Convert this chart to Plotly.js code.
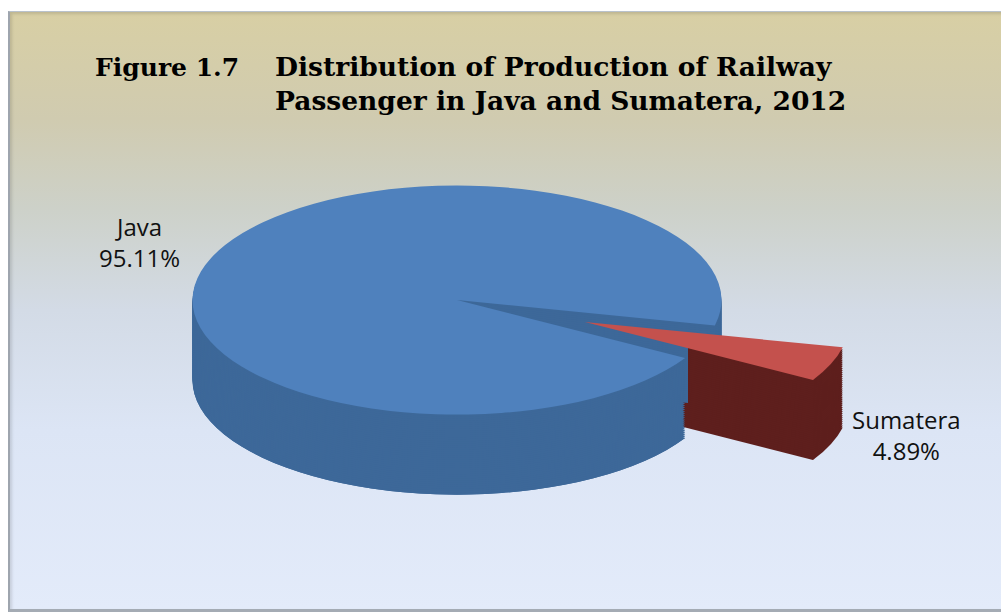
<!DOCTYPE html>
<html>
<head>
<meta charset="utf-8">
<script src="https://cdn.plot.ly/plotly-3.0.1.min.js"></script>
<style>
  html, body { margin:0; padding:0; width:1001px; height:612px; overflow:hidden; background:#ffffff; }
  #frame { position:absolute; left:8px; top:11px; width:1000px; height:597px;
    background: linear-gradient(to bottom, #d8cfa4 0%, #d0cbb0 18%, #cdd1c9 33%, #d3dbe6 50%, #dce5f5 70%, #e3ebfa 100%);
    border-left:2px solid #9ea5ae; border-top:1px solid #b9c2cc; border-bottom:3px solid #a4abb4;
    box-shadow: inset 2px 2px 3px rgba(0,0,0,0.12); }
  .pie { position:absolute; left:55px; top:126px; width:804px; height:989px; transform:scaleY(0.433); transform-origin:0 0; }
  #pieSides { z-index:1; }
  #pieRim { z-index:2; clip-path: inset(0 171px 0 0); }
  #pieTop { z-index:3; }
  #main { position:absolute; left:0; top:0; width:1001px; height:612px; z-index:4; }
</style>
</head>
<body>
<div id="frame"></div>
<div id="pieSides" class="pie"></div>
<div id="pieRim" class="pie"></div>
<div id="pieTop" class="pie"></div>
<div id="main"></div>
<script>
// Data
const regions = ['Java', 'Sumatera'];
const shares = [95.11, 4.89];
const titleLines = ['Distribution of Production of Railway', 'Passenger in Java and Sumatera, 2012'];
const figureLabel = 'Figure 1.7';

// Styling
const topColors = ['#4f81bd', '#c4514d'];
const sideColors = ['#3d6899', '#5e1f1d'];
const clear = 'rgba(0,0,0,0)';
const pulls = [0, 0.52];
const nLayers = 40;
const depthFrac = 185 / 989;

function layer(k, colors) {
  const y0 = depthFrac * k / (nLayers - 1);
  return {
    type: 'pie',
    labels: regions,
    values: shares,
    sort: false,
    direction: 'clockwise',
    rotation: 120.4,
    pull: pulls,
    textinfo: 'none',
    hoverinfo: 'skip',
    marker: { colors: colors, line: { width: 0 } },
    domain: { x: [0, 1], y: [y0, y0 + 1 - depthFrac] },
    showlegend: false
  };
}
const pieLayout = {
  width: 804, height: 989,
  margin: { l: 0, r: 0, t: 0, b: 0 },
  paper_bgcolor: 'rgba(0,0,0,0)',
  plot_bgcolor: 'rgba(0,0,0,0)',
  showlegend: false
};

const sideTraces = [];
for (let k = 0; k < nLayers - 1; k++) sideTraces.push(layer(k, [sideColors[0], clear]));
for (let k = 0; k < nLayers - 1; k++) sideTraces.push(layer(k, [clear, sideColors[1]]));
const rimTraces = [];
for (let k = 0; k < nLayers - 1; k++) rimTraces.push(layer(k, [sideColors[0], clear]));
const topTraces = [layer(nLayers - 1, topColors)];

Plotly.newPlot('pieSides', sideTraces, pieLayout, { staticPlot: true });
Plotly.newPlot('pieRim', rimTraces, pieLayout, { staticPlot: true });
Plotly.newPlot('pieTop', topTraces, pieLayout, { staticPlot: true });

// Labels & title overlay
const W = 1001, H = 612;
const labelPos = [[139, 242], [906, 435]];
const annotations = regions.map((r, i) => ({
  xref: 'paper', yref: 'paper',
  x: labelPos[i][0] / W, y: 1 - labelPos[i][1] / H,
  xanchor: 'center', yanchor: 'middle', align: 'center',
  text: r + '<br>' + shares[i].toFixed(2) + '%',
  showarrow: false,
  font: { family: 'Open Sans, sans-serif', size: 24, color: '#111111', weight: 500 }
}));
annotations.push({
  xref: 'paper', yref: 'paper', x: 93 / W, y: 1 - 67 / H,
  xanchor: 'left', yanchor: 'middle', align: 'left',
  text: '<b>' + figureLabel + '</b>', showarrow: false,
  font: { family: 'DejaVu Serif, serif', size: 25, color: '#000000' }
});
annotations.push({
  xref: 'paper', yref: 'paper', x: 273 / W, y: 1 - 84 / H,
  xanchor: 'left', yanchor: 'middle', align: 'left',
  text: titleLines.map(t => '<b>' + t + '</b>').join('<br>'), showarrow: false,
  font: { family: 'DejaVu Serif, serif', size: 26.5, color: '#000000' }
});

Plotly.newPlot('main', [], {
  width: W, height: H,
  margin: { l: 0, r: 0, t: 0, b: 0 },
  paper_bgcolor: 'rgba(0,0,0,0)',
  plot_bgcolor: 'rgba(0,0,0,0)',
  xaxis: { visible: false }, yaxis: { visible: false },
  annotations: annotations
}, { staticPlot: true });
</script>
</body>
</html>
